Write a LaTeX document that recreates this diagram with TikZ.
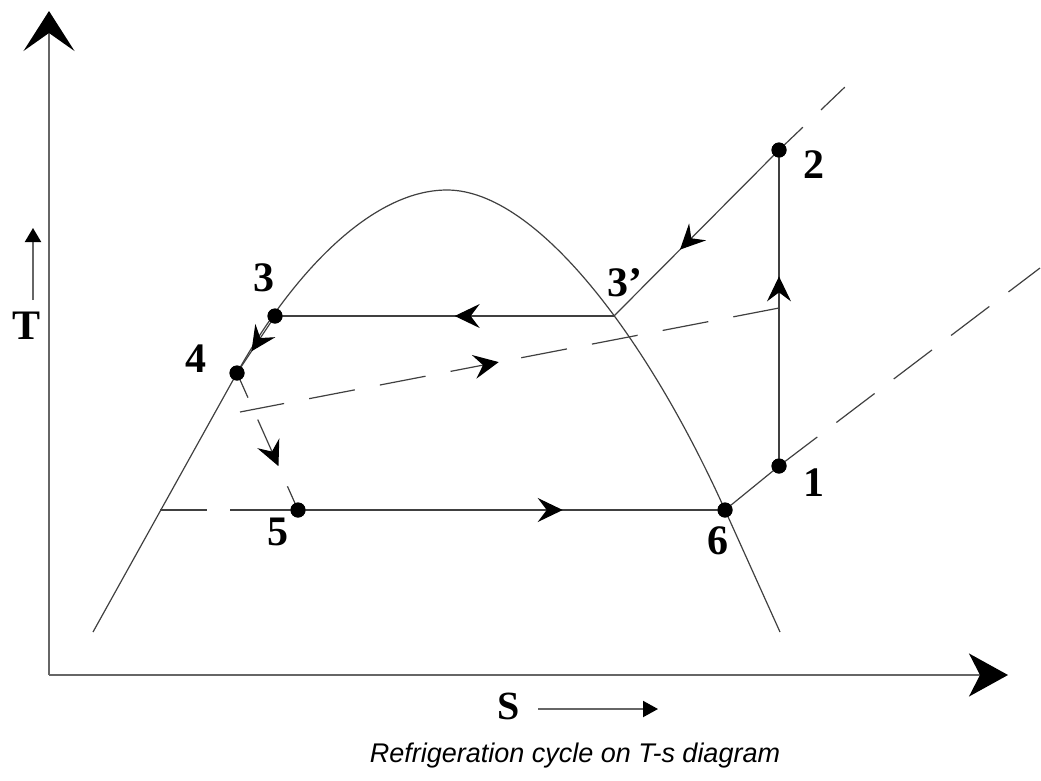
\documentclass[tikz,border=0pt]{standalone}
\usepackage{fontspec}
\setmainfont{Liberation Serif}
\newfontfamily\capfont{Liberation Sans}
\usetikzlibrary{arrows.meta,decorations.markings}
\begin{document}
\begin{tikzpicture}[x=1pt,y=-1pt,
  ln/.style={line width=1.2pt, draw=black!75},
  axis/.style={line width=1.8pt, draw=black!60},
  dot/.style={circle, fill=black, inner sep=0pt, minimum size=15pt},
  lbl/.style={font=\fontsize{42}{42}\selectfont\bfseries, inner sep=0pt},
  lblS/.style={font=\fontsize{40}{40}\selectfont\bfseries, inner sep=0pt},
  midarrow/.style={postaction={decorate, solid, decoration={markings, mark=at position #1 with {\arrow{Stealth[length=25pt,width=24pt,inset=9pt,color=black]}}}}},
  midarrowrev/.style={postaction={decorate, solid, decoration={markings, mark=at position #1 with {\arrowreversed{Stealth[length=25pt,width=24pt,inset=9pt,color=black]}}}}},
]
\useasboundingbox (0,0) rectangle (1041,780);
% axes
\coordinate (O) at (49,675);
\coordinate (Ytip) at (49,11);
\coordinate (Xtip) at (1008,675);
\draw[axis,-{Stealth[length=40pt,width=51pt,inset=18pt,color=black]}] (O) -- (Ytip);
\draw[axis,-{Stealth[length=39pt,width=43pt,inset=11pt,color=black]}] (O) -- (Xtip);
% points
\node[dot] (p1) at (779,466) {};
\node[dot] (p2) at (779,150) {};
\node[dot] (p3) at (275,316) {};
\node[dot] (p4) at (237,373) {};
\node[dot] (p5) at (298,510) {};
\node[dot] (p6) at (725,510) {};
\coordinate (c3p) at (614,316);
\coordinate (A) at (93,632);
\coordinate (B) at (780,632);
\coordinate (L5) at (160,510);
\coordinate (D1) at (240,412);
\coordinate (D2) at (779,308);
\coordinate (E1) at (1040,268);
\coordinate (E2) at (846,86);
% saturation dome
\draw[ln] (A) -- (p4.center) .. controls (290.5,276.9) and (370,190) .. (447,190)
  .. controls (537,190) and (648,339) .. (p6.center) -- (B);
% cycle
\draw[ln, midarrow=0.47] (c3p) -- (p3.center);
\draw[ln, midarrow=0.62] (p5.center) -- (p6.center);
\draw[ln] (p6.center) -- (p1.center);
\draw[ln, midarrow=0.6] (p1.center) -- (p2.center);
\draw[ln, midarrow=0.6] (p2.center) -- (c3p);
\draw[ln, midarrow=0.62] (p3.center) -- (p4.center);
\draw[ln, dash pattern=on 27pt off 24pt on 47pt off 26pt on 40pt, midarrow=0.68] (p4.center) -- (p5.center);
\draw[ln, dash pattern=on 47pt off 23pt on 80pt] (L5) -- (p5.center);
\draw[ln, dash pattern=on 46.5pt off 25.5pt, midarrowrev=0.52] (D2) -- (D1);
\draw[ln, dash pattern=on 48pt off 24pt] (p1.center) -- (E1);
\draw[ln, dash pattern=on 33pt off 25pt] (p2.center) -- (E2);
% redraw dots on top
\foreach \p in {p1,p2,p3,p4,p5,p6} \fill (\p) circle (7.5pt);
% labels
\node[lbl] (l2) at (814,165) {2};
\node[lbl] (l1) at (814,483) {1};
\node[lbl] (l6) at (718,541) {6};
\node[lbl] (l5) at (278,532) {5};
\node[lbl] (l3) at (264,278) {3};
\node[lbl] (l4) at (196,359) {4};
\node[lbl] (l3p) at (625,283) {3’};
\node[lbl] (lT) at (27,326) {T};
\node[lblS] (lS) at (509,706) {S};
\coordinate (Ta) at (33,300);
\coordinate (Tb) at (33,228);
\draw[line width=2pt, draw=black!60, -{Triangle[length=14pt,width=16pt,color=black]}] (Ta) -- (Tb);
\coordinate (Sa) at (538,709);
\coordinate (Sb) at (658,709);
\draw[line width=2pt, draw=black!60, -{Triangle[length=15pt,width=16pt,color=black]}] (Sa) -- (Sb);
\node[font=\capfont\itshape\fontsize{27}{27}\selectfont, inner sep=0pt] (cap) at (575,756) {Refrigeration cycle on T-s diagram};
\end{tikzpicture}
\end{document}
